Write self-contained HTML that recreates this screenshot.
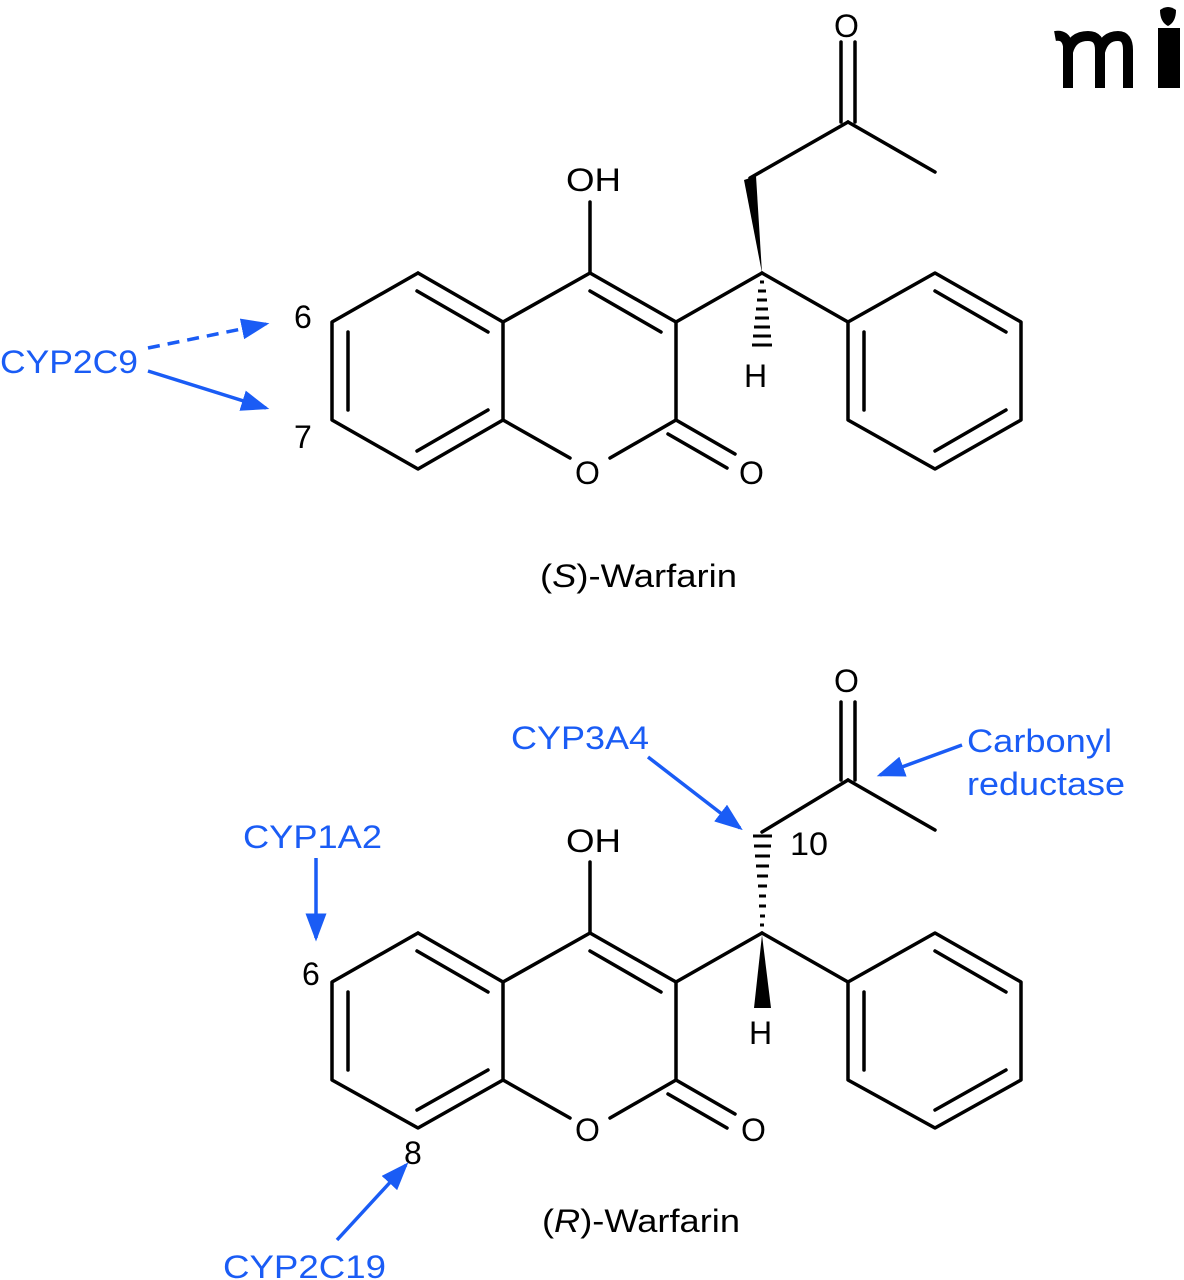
<!DOCTYPE html>
<html><head><meta charset="utf-8"><style>
html,body{margin:0;padding:0;background:#fff;}
svg{display:block;}
text{font-family:"Liberation Sans",sans-serif;font-size:32px;}
.k{fill:#000;}
.b{fill:#1a5cf5;}
</style></head><body>
<svg width="1184" height="1280" viewBox="0 0 1184 1280" xmlns="http://www.w3.org/2000/svg">
<defs>
<marker id="ah" markerWidth="8" markerHeight="6" refX="7" refY="3" orient="auto" markerUnits="strokeWidth">
<path d="M0,0 L8,3 L0,6 Z" fill="#1a5cf5"/>
</marker>
</defs>
<g stroke="#000" stroke-width="3.5" fill="none" stroke-linecap="round" stroke-linejoin="round">
<polyline points="418,273 503,322 503,420 418,469 332,420 332,322 418,273"/>
<line x1="417" y1="291" x2="488" y2="332"/>
<line x1="348" y1="332" x2="348" y2="410"/>
<line x1="417" y1="451" x2="488" y2="410"/>
<line x1="503" y1="322" x2="590" y2="273"/>
<line x1="590" y1="273" x2="676" y2="322"/>
<line x1="590" y1="291" x2="661" y2="332"/>
<line x1="590" y1="273" x2="590" y2="202"/>
<line x1="676" y1="322" x2="676" y2="420"/>
<line x1="676" y1="420" x2="610" y2="458"/>
<line x1="503" y1="420" x2="570" y2="458"/>
<line x1="676" y1="420" x2="735" y2="454"/>
<line x1="668" y1="434" x2="727" y2="468"/>
<line x1="676" y1="322" x2="762" y2="273"/>
<line x1="762" y1="273" x2="848" y2="322"/>
<line x1="750" y1="178" x2="848" y2="122"/>
<line x1="848" y1="122" x2="935" y2="172"/>
<line x1="841" y1="122" x2="841" y2="42"/>
<line x1="855" y1="122" x2="855" y2="42"/>
<polyline points="848,322 935,273 1021,322 1021,420 935,469 848,420 848,322"/>
<line x1="935" y1="291" x2="1006" y2="332"/>
<line x1="1006" y1="410" x2="935" y2="451"/>
<line x1="864" y1="332" x2="864" y2="410"/>
<polyline points="418,933 503,982 503,1080 418,1128 332,1080 332,982 418,933"/>
<line x1="417" y1="951" x2="488" y2="992"/>
<line x1="348" y1="992" x2="348" y2="1070"/>
<line x1="417" y1="1110" x2="488" y2="1070"/>
<line x1="503" y1="982" x2="590" y2="933"/>
<line x1="590" y1="933" x2="676" y2="982"/>
<line x1="590" y1="951" x2="661" y2="992"/>
<line x1="590" y1="933" x2="590" y2="862"/>
<line x1="676" y1="982" x2="676" y2="1080"/>
<line x1="676" y1="1080" x2="610" y2="1118"/>
<line x1="503" y1="1080" x2="570" y2="1118"/>
<line x1="676" y1="1080" x2="735" y2="1114"/>
<line x1="668" y1="1094" x2="727" y2="1128"/>
<line x1="676" y1="982" x2="762" y2="933"/>
<line x1="762" y1="933" x2="848" y2="982"/>
<line x1="762" y1="832" x2="848" y2="780"/>
<line x1="848" y1="780" x2="935" y2="830"/>
<line x1="841" y1="780" x2="841" y2="702"/>
<line x1="855" y1="780" x2="855" y2="702"/>
<polyline points="848,982 935,933 1021,982 1021,1080 935,1128 848,1080 848,982"/>
<line x1="935" y1="951" x2="1006" y2="992"/>
<line x1="1006" y1="1070" x2="935" y2="1110"/>
<line x1="864" y1="992" x2="864" y2="1070"/>
</g>
<polygon points="762,273 744,180 756,176" fill="#000"/>
<polygon points="762,935 754,1008 771,1008" fill="#000"/>
<g stroke="#000" stroke-width="3">
<line x1="760" y1="282" x2="764" y2="282"/>
<line x1="758" y1="291" x2="766" y2="291"/>
<line x1="757" y1="300" x2="767" y2="300"/>
<line x1="756" y1="309" x2="768" y2="309"/>
<line x1="755" y1="318" x2="769" y2="318"/>
<line x1="754" y1="327" x2="770" y2="327"/>
<line x1="753" y1="336" x2="771" y2="336"/>
<line x1="752" y1="345" x2="772" y2="345"/>
<line x1="760" y1="925" x2="764" y2="925"/>
<line x1="760" y1="916" x2="765" y2="916"/>
<line x1="759" y1="906" x2="766" y2="906"/>
<line x1="759" y1="896" x2="766" y2="896"/>
<line x1="758" y1="886" x2="767" y2="886"/>
<line x1="757" y1="876" x2="768" y2="876"/>
<line x1="756" y1="866" x2="769" y2="866"/>
<line x1="755" y1="856" x2="770" y2="856"/>
<line x1="754" y1="846" x2="771" y2="846"/>
<line x1="753" y1="836" x2="772" y2="836"/>
</g>
<g lengthAdjust="spacingAndGlyphs">
<text class="k" x="566" y="191" textLength="55" lengthAdjust="spacingAndGlyphs">OH</text>
<text class="k" x="744" y="387">H</text>
<text class="k" x="575" y="484">O</text>
<text class="k" x="739" y="484">O</text>
<text class="k" x="834" y="37">O</text>
<text class="k" x="294" y="328">6</text>
<text class="k" x="294" y="448">7</text>
<text class="k" x="540" y="587" textLength="197" lengthAdjust="spacingAndGlyphs">(<tspan font-style="italic">S</tspan>)-Warfarin</text>
<text class="k" x="566" y="852" textLength="55" lengthAdjust="spacingAndGlyphs">OH</text>
<text class="k" x="749" y="1044">H</text>
<text class="k" x="575" y="1141">O</text>
<text class="k" x="741" y="1141">O</text>
<text class="k" x="834" y="692">O</text>
<text class="k" x="790" y="855" textLength="38" lengthAdjust="spacingAndGlyphs">10</text>
<text class="k" x="302" y="985">6</text>
<text class="k" x="404" y="1164">8</text>
<text class="k" x="542" y="1232" textLength="198" lengthAdjust="spacingAndGlyphs">(<tspan font-style="italic">R</tspan>)-Warfarin</text>
<text class="b" x="0" y="373" textLength="138" lengthAdjust="spacingAndGlyphs">CYP2C9</text>
<text class="b" x="243" y="848" textLength="139" lengthAdjust="spacingAndGlyphs">CYP1A2</text>
<text class="b" x="511" y="749" textLength="138" lengthAdjust="spacingAndGlyphs">CYP3A4</text>
<text class="b" x="967" y="752" textLength="145" lengthAdjust="spacingAndGlyphs">Carbonyl</text>
<text class="b" x="967" y="795" textLength="158" lengthAdjust="spacingAndGlyphs">reductase</text>
<text class="b" x="223" y="1278" textLength="163" lengthAdjust="spacingAndGlyphs">CYP2C19</text>
</g>
<g stroke="#1a5cf5" stroke-width="3.5" fill="none">
<line x1="148" y1="348" x2="266" y2="324" stroke-dasharray="12,8" marker-end="url(#ah)"/>
<line x1="148" y1="371" x2="266" y2="408" marker-end="url(#ah)"/>
<line x1="316" y1="858" x2="316" y2="938" marker-end="url(#ah)"/>
<line x1="648" y1="757" x2="740" y2="828" marker-end="url(#ah)"/>
<line x1="962" y1="745" x2="880" y2="775" marker-end="url(#ah)"/>
<line x1="337" y1="1240" x2="406" y2="1165" marker-end="url(#ah)"/>
</g>
<g fill="none" stroke="#000" stroke-width="10">
<path d="M1055,36 Q1066,34 1068,46 L1068,88"/>
<path d="M1068,52 Q1072,36 1088,36 Q1100,36 1100,50 L1100,88"/>
<path d="M1100,52 Q1104,36 1118,36 Q1128,36 1128,50 L1128,88"/>
</g>
<rect x="1158" y="28" width="22" height="60" fill="#000"/>
<path d="M1160,10 Q1168,4 1176,10 Q1176,22 1168,26 Q1160,22 1160,10 Z" fill="#000"/>
</svg>
</body></html>
